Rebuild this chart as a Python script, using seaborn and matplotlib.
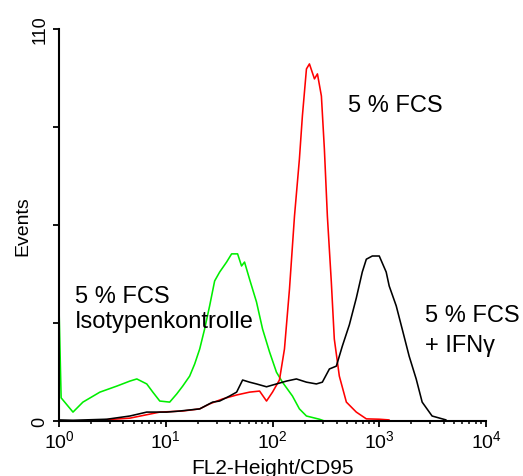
import numpy as np
import pandas as pd
import matplotlib
matplotlib.use("Agg")
import matplotlib.pyplot as plt
import seaborn as sns
from matplotlib.ticker import LogLocator, NullFormatter

# ---- data (x as log10 of FL2-Height, y as events) ----
iso_log = [0.000, 0.020, 0.131, 0.224, 0.383, 0.542, 0.664, 0.729, 0.822, 0.879,
           0.944, 1.037, 1.103, 1.159, 1.224, 1.271, 1.318, 1.364, 1.411, 1.458,
           1.505, 1.570, 1.617, 1.673, 1.710, 1.738, 1.785, 1.850, 1.907, 1.972,
           2.037, 2.093, 2.187, 2.252, 2.318, 2.439, 2.486]
iso_events = [32.0, 6.5, 2.5, 5.3, 8.1, 9.8, 11.2, 11.8, 10.4, 8.1,
              5.6, 5.3, 7.6, 9.8, 12.6, 16.0, 20.2, 25.8, 32.3, 39.3,
              41.8, 44.6, 46.9, 46.9, 43.5, 44.6, 39.8, 33.4, 25.8, 19.4,
              13.7, 10.9, 7.0, 3.4, 1.4, 0.5, 0.0]

fcs_log = [0.411, 0.664, 0.944, 1.159, 1.318, 1.411, 1.533, 1.664, 1.785, 1.879,
           1.944, 2.000, 2.065, 2.112, 2.159, 2.206, 2.252, 2.280, 2.318, 2.346,
           2.393, 2.421, 2.458, 2.486, 2.514, 2.551, 2.579, 2.626, 2.692, 2.785,
           2.879, 3.000, 3.093]
fcs_events = [0.3, 0.8, 2.5, 2.8, 3.4, 4.8, 6.2, 7.3, 8.1, 8.4,
              5.6, 8.1, 11.5, 20.2, 37.0, 57.5, 73.5, 85.6, 98.8, 100.2,
              96.0, 97.4, 91.2, 76.3, 57.5, 39.0, 23.0, 12.6, 5.3, 2.5,
              0.6, 0.5, 0.3]

ifn_log = [0.000, 0.131, 0.449, 0.664, 0.822, 1.009, 1.131, 1.318, 1.439, 1.505,
           1.598, 1.664, 1.720, 1.785, 1.850, 1.944, 2.037, 2.131, 2.224, 2.318,
           2.411, 2.467, 2.533, 2.598, 2.654, 2.720, 2.785, 2.841, 2.879, 2.935,
           3.000, 3.065, 3.093, 3.159, 3.215, 3.280, 3.346, 3.402, 3.495, 3.626]
ifn_events = [0.3, 0.2, 0.5, 1.4, 2.5, 2.5, 2.8, 3.4, 5.3, 5.6,
              7.0, 8.1, 11.5, 10.9, 10.4, 9.6, 10.4, 11.2, 11.8, 10.9,
              10.4, 10.9, 14.6, 15.4, 21.0, 27.0, 34.5, 41.8, 45.4, 46.3,
              46.3, 41.8, 37.9, 32.3, 25.8, 18.2, 11.8, 5.3, 1.4, 0.3]

sample_names = ["iso", "fcs", "ifn"]
sample_colors = ["#00ee00", "#ff0000", "#000000"]

y_ticks = [0, 27.5, 55, 82.5, 110]
y_ticklabels = ["0", "", "", "", "110"]

df = pd.concat([
    pd.DataFrame({"sample": "iso", "fl2": 10 ** np.array(iso_log), "events": iso_events}),
    pd.DataFrame({"sample": "fcs", "fl2": 10 ** np.array(fcs_log), "events": fcs_events}),
    pd.DataFrame({"sample": "ifn", "fl2": 10 ** np.array(ifn_log), "events": ifn_events}),
], ignore_index=True)

sns.set_style("ticks")
plt.rcParams["font.family"] = ["Liberation Sans", "DejaVu Sans"]
plt.rcParams["mathtext.default"] = "regular"
plt.rcParams["text.color"] = "black"
plt.rcParams["axes.labelcolor"] = "black"
plt.rcParams["xtick.color"] = "black"
plt.rcParams["ytick.color"] = "black"
plt.rcParams["axes.edgecolor"] = "black"

W, H = 523, 477
fig = plt.figure(figsize=(W / 100, H / 100), dpi=100)
ax = fig.add_axes([59 / W, 1 - 422 / H, (486 - 59) / W, (422 - 30) / H])

sns.lineplot(data=df, x="fl2", y="events", hue="sample", hue_order=sample_names,
             palette=sample_colors, estimator=None, sort=False, legend=False,
             linewidth=1.15, ax=ax)

ax.set_xscale("log")
ax.set_xlim(1, 1e4)
ax.set_ylim(0, 110)
ax.xaxis.set_major_locator(LogLocator(base=10, numticks=10))
ax.xaxis.set_minor_locator(LogLocator(base=10, subs=np.arange(2, 10), numticks=50))
ax.xaxis.set_minor_formatter(NullFormatter())
ax.set_yticks(y_ticks)
ax.set_yticklabels(y_ticklabels)
plt.setp(ax.get_yticklabels(), rotation=90, va="center")

for s in ["top", "right"]:
    ax.spines[s].set_visible(False)
for s in ["left", "bottom"]:
    ax.spines[s].set_linewidth(1.5)
    ax.spines[s].set_color("black")

ax.tick_params(axis="x", which="major", direction="out", length=4, width=1.3,
               labelsize=14, pad=2, colors="black")
ax.tick_params(axis="x", which="minor", direction="out", length=2.5, width=1.1,
               colors="black")
ax.tick_params(axis="y", which="major", direction="out", length=4.5, width=1.3,
               labelsize=13, pad=3, colors="black")

ax.set_xlabel("FL2-Height/CD95", fontsize=15, color="black")
ax.set_ylabel("Events", fontsize=14, color="black")
ax.xaxis.set_label_coords(0.5, (422 - 459) / 392)
ax.yaxis.set_label_coords((31 - 59) / 427, 0.5)

def px_text(x, y, s):
    fig.text(x / W, 1 - y / H, s, fontsize=17, ha="left", va="baseline",
             color="black")

px_text(348, 112, "5 % FCS")
px_text(75, 303, "5 % FCS")
px_text(75, 328, "Isotypenkontrolle")
px_text(425, 322, "5 % FCS")
px_text(425, 352, "+ IFNγ")

fig.savefig("out.png", dpi=100, facecolor="white")
